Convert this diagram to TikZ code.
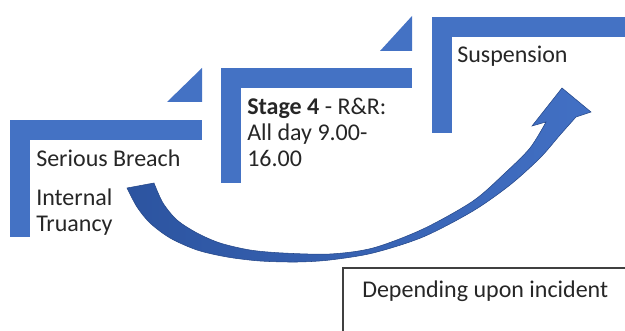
\documentclass[tikz,border=0pt]{standalone}
\usepackage{fontspec}
\setmainfont{Carlito}
\usepackage{tikz}
\usetikzlibrary{positioning}
\definecolor{BarBlue}{RGB}{68,114,196}
\definecolor{ArrowDark}{RGB}{44,84,160}
\definecolor{ArrowLight}{RGB}{66,112,196}
\definecolor{TextGrey}{RGB}{38,38,38}
\definecolor{NoteLine}{RGB}{64,64,64}

\begin{document}
\begin{tikzpicture}[
  x=0.75pt, y=-0.75pt,
  bar/.style={fill=BarBlue},
  lbl/.style={
    font=\fontsize{18}{19.6}\selectfont,
    text=TextGrey,
    inner sep=0pt,
    align=left,
    anchor=base west,
  },
  curvearrow/.style={
    left color=ArrowDark,
    right color=ArrowLight,
    draw=ArrowDark!85!black,
    line width=0.4pt,
  },
  notebox/.style={draw=NoteLine, line width=0.9pt},
]
  \clip (0,0) rectangle (625,331);

  % -------- step brackets --------
  \foreach \x/\y/\r/\b in {10/120/202/237, 221/68/412/183, 432/17/640/133}{
    \fill[bar] (\x,\y) rectangle (\x+20,\b);
    \fill[bar] (\x,\y) rectangle (\r,\y+20);
  }
  % small step corners
  \fill[bar] (167,102) -- (202,102) -- (202,68) -- cycle;
  \fill[bar] (380,51) -- (412,51) -- (412,16) -- cycle;

  % -------- labels (base = last line) --------
  \node[lbl] (breach) at (36,167) {Serious Breach};
  \node[lbl] (truancy) at (36,232) {Internal\\Truancy};
  \node[lbl] (stage) at (247,167) {\textbf{Stage 4} - R\&R:\\All day 9.00-\\16.00};
  \node[lbl] (susp) at (457,63) {Suspension};

  % -------- curved block arrow --------
  \coordinate (tail) at (127,188);
  \coordinate (tip) at (562,88);
  \shadedraw[curvearrow] (tail)
    plot[smooth] coordinates {(127,188) (137,207) (150,223) (170,238)
      (197,250) (227,257) (260,261) (297,262) (330,260) (373,253)
      (423,237) (473,211) (510,185) (540,158) (560,135) (576,117)}
    -- (591,112) -- (tip) -- (532,126) -- (546,122)
    -- plot[smooth] coordinates {(546,122) (530,148) (505,173) (473,201)
      (423,229) (373,248) (330,254) (283,253) (250,250) (220,243)
      (197,233) (177,220) (163,203) (154,183)}
    -- cycle;

  % -------- note --------
  \draw[notebox] (343,268) rectangle (660,360);
  \node[lbl] (note) at (362,298) {Depending upon incident};
\end{tikzpicture}
\end{document}
